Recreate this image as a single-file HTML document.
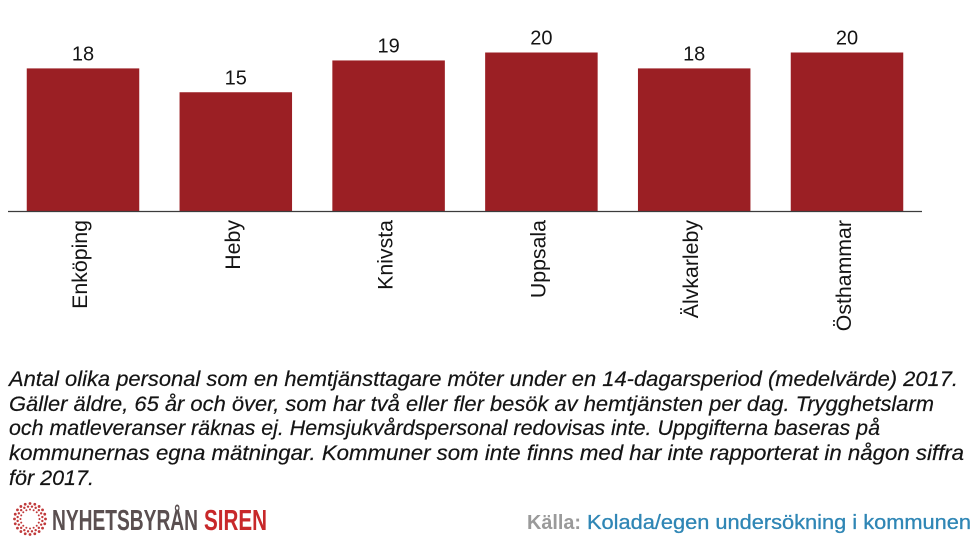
<!DOCTYPE html>
<html lang="sv">
<head>
<meta charset="utf-8">
<title>Antal olika personal per hemtjänsttagare</title>
<style>
html,body{margin:0;padding:0;background:#fff;width:980px;height:551px;overflow:hidden}
svg{display:block;font-family:"Liberation Sans",sans-serif}
.cap{font-style:italic;font-size:21px;fill:#141414;stroke:#141414;stroke-width:0.2}
</style>
</head>
<body>
<svg id="chart" width="980" height="551" viewBox="0 0 980 551" xmlns="http://www.w3.org/2000/svg">
  <g id="bars"></g>
  <line x1="8" x2="922" y1="211.5" y2="211.5" stroke="#3c3c3c" stroke-width="1.2"/>
  <g id="labels"></g>
  <g>
    <text class="cap" x="9" y="386" textLength="949" lengthAdjust="spacingAndGlyphs">Antal olika personal som en hemtjänsttagare möter under en 14-dagarsperiod (medelvärde) 2017.</text>
    <text class="cap" x="9" y="411" textLength="925" lengthAdjust="spacingAndGlyphs">Gäller äldre, 65 år och över, som har två eller fler besök av hemtjänsten per dag. Trygghetslarm</text>
    <text class="cap" x="9" y="435" textLength="871" lengthAdjust="spacingAndGlyphs">och matleveranser räknas ej. Hemsjukvårdspersonal redovisas inte. Uppgifterna baseras på</text>
    <text class="cap" x="9" y="460" textLength="955" lengthAdjust="spacingAndGlyphs">kommunernas egna mätningar. Kommuner som inte finns med har inte rapporterat in någon siffra</text>
    <text class="cap" x="9" y="485" textLength="85" lengthAdjust="spacingAndGlyphs">för 2017.</text>
  </g>
  <g id="logo-mark"></g>
  <text x="52" y="530" font-size="29" font-weight="700" fill="#5a4f50" textLength="146" lengthAdjust="spacingAndGlyphs">NYHETSBYRÅN</text>
  <text x="204" y="530" font-size="29" font-weight="700" fill="#c8282a" textLength="63" lengthAdjust="spacingAndGlyphs">SIREN</text>
  <text x="527" y="529" font-size="20" font-weight="700" fill="#9a9a9a" textLength="54" lengthAdjust="spacingAndGlyphs">Källa:</text>
  <text x="587" y="529" font-size="20" fill="#2f86b5" stroke="#2f86b5" stroke-width="0.3" textLength="384" lengthAdjust="spacingAndGlyphs">Kolada/egen undersökning i kommunen</text>
</svg>
<script>
const categories = ["Enköping", "Heby", "Knivsta", "Uppsala", "Älvkarleby", "Östhammar"];
const seriesValues = [18, 15, 19, 20, 18, 20];

const NS = "http://www.w3.org/2000/svg";
const baseY = 211.5;
const unitHeight = 7.95;
const firstCenter = 83;
const bandStep = 152.8;
const barWidth = 112.5;

function xScale(i) { return firstCenter + i * bandStep; }
function yScale(v) { return baseY - v * unitHeight; }

const barsGroup = document.getElementById("bars");
const labelsGroup = document.getElementById("labels");

categories.forEach(function (name, i) {
  const value = seriesValues[i];
  const cx = xScale(i);

  const bar = document.createElementNS(NS, "rect");
  
  
  bar.setAttribute("x", cx - barWidth / 2);
  bar.setAttribute("y", yScale(value));
  bar.setAttribute("width", barWidth);
  bar.setAttribute("height", baseY - yScale(value));
  bar.setAttribute("fill", "#9b1f24");
  barsGroup.appendChild(bar);

  const valueLabel = document.createElementNS(NS, "text");
  
  
  valueLabel.setAttribute("x", cx);
  valueLabel.setAttribute("y", yScale(value) - 8);
  valueLabel.setAttribute("text-anchor", "middle");
  valueLabel.setAttribute("font-size", "20");
  valueLabel.setAttribute("fill", "#141414");
  valueLabel.textContent = value;
  barsGroup.appendChild(valueLabel);

  const catLabel = document.createElementNS(NS, "text");
  
  
  catLabel.setAttribute("transform", "translate(" + (cx + 4) + ",220) rotate(-90)");
  catLabel.setAttribute("text-anchor", "end");
  catLabel.setAttribute("font-size", "21.3");
  catLabel.setAttribute("fill", "#141414");
  catLabel.textContent = name;
  labelsGroup.appendChild(catLabel);
});

const logoGroup = document.getElementById("logo-mark");
[[9.5, 1.0, 16], [12.5, 1.2, 20], [15.5, 1.4, 20]].forEach(function (ring, r) {
  for (let k = 0; k < ring[2]; k++) {
    const angle = (k + (r % 2) * 0.5) * 2 * Math.PI / ring[2];
    const dot = document.createElementNS(NS, "circle");
    
    
    dot.setAttribute("cx", 30 + ring[0] * Math.cos(angle));
    dot.setAttribute("cy", 519 + ring[0] * Math.sin(angle));
    dot.setAttribute("r", ring[1]);
    dot.setAttribute("fill", "#c0393a");
    logoGroup.appendChild(dot);
  }
});
</script>
</body>
</html>
